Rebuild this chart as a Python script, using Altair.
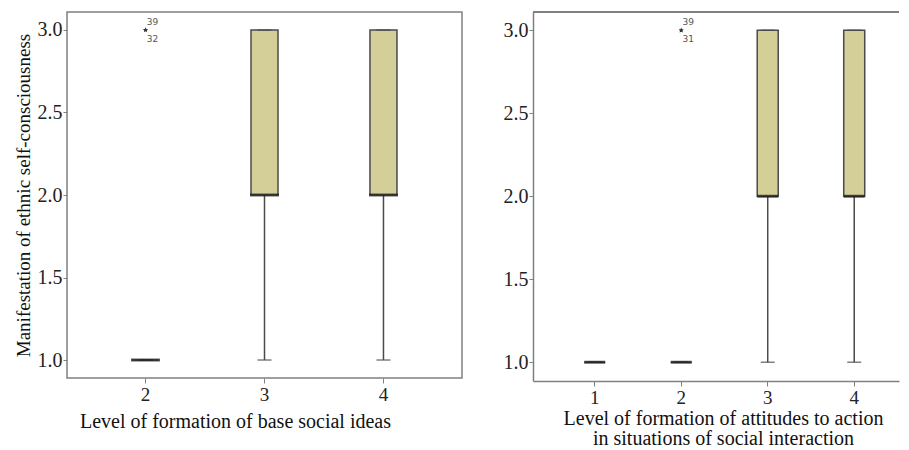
import altair as alt
import pandas as pd

# ---- data ----
left_levels = ["2", "3", "4"]
left_lower = [1.0, 1.0, 1.0]
left_q1 = [1.0, 2.0, 2.0]
left_median = [1.0, 2.0, 2.0]
left_q3 = [1.0, 3.0, 3.0]
left_upper = [1.0, 3.0, 3.0]
left_out_level = ["2"]
left_out_value = [3.0]
left_out_id_top = ["39"]
left_out_id_bottom = ["32"]

right_levels = ["1", "2", "3", "4"]
right_lower = [1.0, 1.0, 1.0, 1.0]
right_q1 = [1.0, 1.0, 2.0, 2.0]
right_median = [1.0, 1.0, 2.0, 2.0]
right_q3 = [1.0, 1.0, 3.0, 3.0]
right_upper = [1.0, 1.0, 3.0, 3.0]
right_out_level = ["2"]
right_out_value = [3.0]
right_out_id_top = ["39"]
right_out_id_bottom = ["31"]

y_ticks = [1.0, 1.5, 2.0, 2.5, 3.0]

SERIF = "Liberation Serif, Times New Roman, serif"
BOX_FILL = "#d4cf98"
LINE = "#4a4a4a"
FRAME = "#808080"
STAR = "M0,-1L0.29,-0.4L0.95,-0.31L0.47,0.15L0.59,0.81L0,0.5L-0.59,0.81L-0.47,0.15L-0.95,-0.31L-0.29,-0.4Z"


def panel(levels, lower, q1, med, q3, upper, out_level, out_value, id_top, id_bottom,
          width, height, ydomain, box_w, med_w, pad_inner, pad_outer, align, xtitle,
          title_x, title_pad, title_size, ytitle, full_frame):
    stats = pd.DataFrame({"level": levels, "lower": lower, "q1": q1, "median": med,
                          "q3": q3, "upper": upper})
    outs = pd.DataFrame({"level": out_level, "value": out_value,
                         "top": id_top, "bottom": id_bottom})

    xs = alt.Scale(domain=levels, paddingInner=pad_inner, paddingOuter=pad_outer, align=align)
    ys = alt.Scale(domain=ydomain, nice=False, zero=False)

    x_axis = alt.Axis(labelAngle=0, title=xtitle, titleX=title_x, titleAlign="center",
                      titlePadding=title_pad, titleFont=SERIF, titleFontSize=title_size,
                      titleFontWeight="normal", titleColor="#111", labelFont=SERIF,
                      labelFontSize=19, labelColor="#222", labelPadding=2, tickSize=5,
                      tickColor=FRAME, domain=not full_frame, domainColor=FRAME,
                      domainWidth=1.5, grid=False)
    y_axis = alt.Axis(values=y_ticks, format=".1f", title=ytitle, titleFont=SERIF,
                      titleFontSize=19, titleFontWeight="normal", titleColor="#111",
                      titlePadding=4, labelFont=SERIF, labelFontSize=20,
                      labelColor="#222", labelPadding=1, tickSize=4,
                      tickColor=FRAME, domain=not full_frame, domainColor=FRAME,
                      domainWidth=1.5, grid=False)

    base = alt.Chart(stats).encode(x=alt.X("level:N", scale=xs, axis=x_axis))

    whisker_lo = base.mark_rule(color=LINE, strokeWidth=1.5).encode(
        y=alt.Y("lower:Q", scale=ys, axis=y_axis), y2="q1:Q")
    whisker_hi = base.mark_rule(color=LINE, strokeWidth=1.5).encode(
        y=alt.Y("q3:Q"), y2="upper:Q")
    cap_lo = base.mark_tick(color=LINE, size=14, thickness=1.5).encode(y="lower:Q")
    cap_hi = base.mark_tick(color=LINE, size=14, thickness=1.5).encode(y="upper:Q")
    box = base.mark_bar(size=box_w, fill=BOX_FILL, stroke=LINE, strokeWidth=1.5).encode(
        y="q1:Q", y2="q3:Q")
    median = base.mark_tick(color="#1a1a1a", size=med_w, thickness=3).encode(y="median:Q")

    obase = alt.Chart(outs).encode(x=alt.X("level:N", scale=xs), y=alt.Y("value:Q", scale=ys))
    star = obase.mark_point(shape=STAR, filled=True, color="#333", size=30, opacity=1)
    lab_top = obase.mark_text(font="DejaVu Sans", fontSize=9, color="#555", dx=7, dy=-8).encode(
        text="top:N")
    lab_bot = obase.mark_text(font="DejaVu Sans", fontSize=9, color="#555", dx=7, dy=9).encode(
        text="bottom:N")

    layers = [whisker_lo, whisker_hi, box, cap_lo, cap_hi, median, star, lab_top, lab_bot]
    if full_frame:
        view = alt.ViewBackground(stroke=FRAME, strokeWidth=1.5)
    else:
        top_border = alt.Chart(stats).mark_rule(color=FRAME, strokeWidth=1.5).encode(
            y=alt.value(0))
        layers.append(top_border)
        view = alt.ViewBackground(stroke=None)
    return alt.layer(*layers).properties(width=width, height=height, view=view)


left = panel(left_levels, left_lower, left_q1, left_median, left_q3, left_upper,
             left_out_level, left_out_value, left_out_id_top, left_out_id_bottom,
             width=395, height=366, ydomain=[0.891, 3.109], box_w=27, med_w=29,
             pad_inner=0.5, pad_outer=0.41, align=0.5,
             xtitle="Level of formation of base social ideas", title_x=168, title_pad=7,
             title_size=20, ytitle="Manifestation of ethnic self-consciousness",
             full_frame=True)

right = panel(right_levels, right_lower, right_q1, right_median, right_q3, right_upper,
              right_out_level, right_out_value, right_out_id_top, right_out_id_bottom,
              width=366, height=369, ydomain=[0.887, 3.11], box_w=21, med_w=21,
              pad_inner=0.5, pad_outer=0.3656, align=0.634,
              xtitle=["Level of formation of attitudes to action",
                      "in situations of social interaction"],
              title_x=190, title_pad=1, title_size=20, ytitle=None, full_frame=False)

chart = alt.hconcat(left, right, spacing=40).properties(
    padding={"left": 5, "top": 3, "right": 0, "bottom": 5}
).configure_axis(titleLineHeight=20)

chart.save("out.html", embed_options={"renderer": "svg", "actions": False})
